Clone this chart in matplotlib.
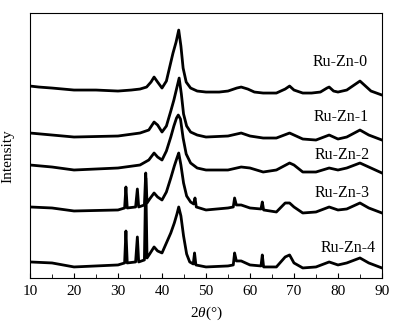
import matplotlib
matplotlib.use('Agg')
import matplotlib.pyplot as plt
from matplotlib.ticker import MultipleLocator

plt.rcParams['font.family'] = ['Liberation Serif', 'DejaVu Serif']
plt.rcParams['mathtext.fontset'] = 'custom'
plt.rcParams['mathtext.it'] = 'Liberation Serif:italic'
plt.rcParams['mathtext.rm'] = 'Liberation Serif'

# 2theta positions (deg) and intensities (a.u., stacked)
x0 = [10, 12, 15, 20, 25, 30, 33, 35, 36.5, 37.5, 38.2, 39, 40, 41, 41.8, 42.5, 43.2, 43.8, 44.3, 44.8,
      45.5, 46.5, 48, 50, 53, 55, 57, 58, 59.5, 61, 63, 66, 68, 69, 70, 72, 74, 76, 77.5, 78, 79, 80, 82,
      84, 85, 86, 87.5, 90]
y0 = [192, 191, 190, 188, 188, 187, 188, 189, 191, 196, 201, 196, 190, 197, 212, 225, 236, 248, 232, 210,
      196, 190, 187, 186, 186, 187, 190, 191, 189, 186, 185, 185, 189, 192, 188, 185, 185, 186, 190, 191, 187, 186, 188,
      194, 197, 193, 187, 183]

x1 = [10, 15, 20, 30, 35, 37, 38.2, 39, 40, 41, 42, 42.7, 43.3, 43.9, 44.4, 44.9, 45.6, 46.5, 48, 50, 55, 58, 60,
      63, 66, 69, 70, 72, 75, 78, 80, 82, 85, 87, 90]
y1 = [145, 143, 141, 142, 145, 148, 156, 153, 146, 152, 167, 178, 189, 200, 184, 164, 152, 146, 143, 141, 142, 145, 142,
      140, 140, 145, 143, 139, 138, 143, 139, 141, 148, 143, 138]

x2 = [10, 15, 20, 30, 35, 37, 38.2, 39, 40, 41, 42, 42.7, 43.3, 43.7, 44.2, 44.8, 45.5, 46.5, 48, 50, 55, 58, 60,
      63, 66, 69, 70, 72, 75, 78, 80, 82, 85, 87, 90]
y2 = [113, 111, 108, 110, 113, 118, 125, 121, 118, 127, 141, 152, 160, 163, 159, 140, 124, 115, 110, 108, 108, 111, 110,
      106, 108, 115, 113, 106, 106, 110, 108, 110, 115, 111, 105]

x3 = [10, 15, 20, 30, 31.5, 31.8, 32.1, 34, 34.4, 34.7, 36, 36.3, 36.6, 37.2, 38.2, 39, 40, 41, 42,
      42.8, 43.4, 43.8, 44.3, 44.9, 45.6, 46.5, 47.2, 47.5, 47.8, 50, 55, 56.2, 56.5, 56.9, 58, 60, 62.5, 62.8, 63.1,
      66, 68, 69, 70, 72, 75, 78, 80, 82, 85, 87, 90]
y3 = [71, 70, 67, 68, 70, 91, 70, 71, 89, 71, 73, 105, 75, 79, 85, 81, 78, 86, 100,
      112, 120, 125, 113, 95, 82, 76, 74, 80, 71, 68, 70, 71, 80, 73, 73, 70, 69, 76, 68,
      66, 75, 75, 71, 65, 66, 71, 68, 69, 75, 70, 65]

x4 = [10, 15, 20, 30, 31.5, 31.8, 32.1, 34, 34.4, 34.7, 36, 36.3, 36.6, 37.2, 38.2, 39, 40, 41, 42,
      42.8, 43.4, 43.8, 44.3, 44.9, 45.6, 46.3, 47.1, 47.4, 47.7, 50, 55, 56.2, 56.5, 56.9, 58, 60, 62.5, 62.8, 63.1,
      66, 68, 69, 70, 72, 75, 78, 80, 82, 85, 87, 90]
y4 = [16, 15, 11, 13, 15, 47, 15, 16, 41, 16, 18, 100, 20, 24, 31, 27, 25, 35, 45,
      55, 64, 71, 62, 42, 24, 16, 14, 25, 13, 11, 12, 13, 25, 17, 17, 13, 12, 23, 11,
      11, 21, 23, 15, 10, 11, 16, 13, 15, 20, 15, 10]

series_x = [x0, x1, x2, x3, x4]
series_y = [y0, y1, y2, y3, y4]
names = ['Ru-Zn-0', 'Ru-Zn-1', 'Ru-Zn-2', 'Ru-Zn-3', 'Ru-Zn-4']
label_pos = [(80.5, 216), (80.7, 161), (80.9, 123), (80.9, 85), (82.3, 30)]

fig = plt.figure(figsize=(3.95, 3.27), dpi=100)
ax = fig.add_axes([0.076, 0.150, 0.891, 0.810])

for xs, ys in zip(series_x, series_y):
    ax.plot(xs, ys, color='black', lw=2.0, solid_joinstyle='round')

for name, (lx, ly) in zip(names, label_pos):
    ax.text(lx, ly, name, fontsize=11.5, ha='center', va='center')

ax.set_xlim(10, 90)
ax.set_ylim(0, 265)
ax.xaxis.set_major_locator(MultipleLocator(10))
ax.xaxis.set_minor_locator(MultipleLocator(5))
ax.tick_params(axis='x', which='both', direction='in', top=False, labelsize=11, pad=5)
ax.tick_params(axis='x', which='major', length=3.5)
ax.tick_params(axis='x', which='minor', length=3)
ax.set_yticks([])
ax.set_ylabel('Intensity', fontsize=11)
ax.yaxis.set_label_coords(-0.045, 0.46)
ax.set_xlabel(r'2$\it{\theta}$(°)', fontsize=11, labelpad=5)

fig.savefig('out.png', dpi=100)
plt.close(fig)
